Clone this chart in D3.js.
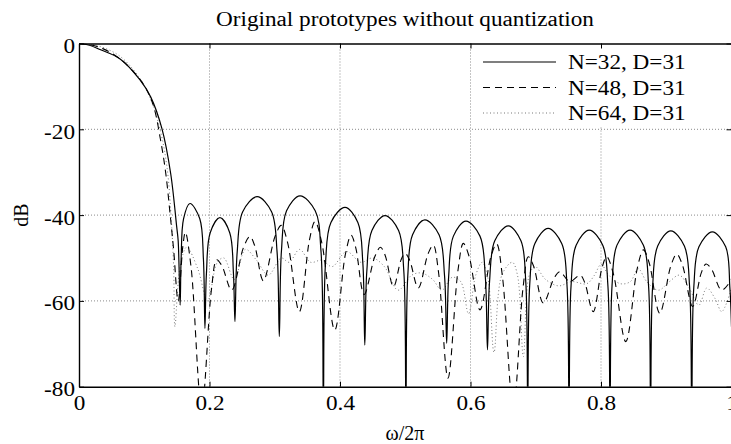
<!DOCTYPE html>
<html>
<head>
<meta charset="utf-8">
<script src="https://cdn.jsdelivr.net/npm/d3@7"></script>
<style>
  body { margin: 0; background: #fff; }
  text { font-family: "Liberation Serif", "Times New Roman", serif; fill: #000; }
</style>
</head>
<body>
<svg id="chart" width="731" height="444"></svg>
<script>
// values: [omega/2pi, dB]
var n32 = [
  [0,0],[0.016,-0.4],[0.032,-1.4],[0.063,-3.6],[0.0935,-8.5],[0.11,-12.5],[0.127,-19.8],[0.1405,-30.3],[0.1497,-42.7],[0.152,-46],[0.155,-61],
  [0.1565,-50.3],[0.1603,-40.8],[0.170,-37.3],[0.185,-40.8],[0.1907,-50.3],[0.193,-66.4],
  [0.1953,-53.6],[0.2011,-44.1],[0.216,-40.6],[0.231,-44.1],[0.2367,-53.6],[0.239,-64.8],
  [0.2424,-48.7],[0.2509,-39.2],[0.273,-35.7],[0.2951,-39.2],[0.3036,-48.7],[0.307,-68.3],
  [0.3102,-48.5],[0.3181,-39],[0.3387,-35.5],[0.362,-39],[0.3709,-48.5],[0.3745,-85],
  [0.3778,-51.2],[0.3861,-41.7],[0.4077,-38.2],[0.4274,-41.7],[0.435,-51.2],[0.438,-70.3],
  [0.4411,-53.1],[0.4489,-43.6],[0.469,-40.1],[0.4898,-43.6],[0.4978,-53.1],[0.501,-85],
  [0.5039,-54.1],[0.5112,-44.6],[0.530,-41.1],[0.5518,-44.6],[0.5602,-54.1],[0.5635,-69.9],
  [0.5665,-54.4],[0.5738,-44.9],[0.593,-41.4],[0.6145,-44.9],[0.6227,-54.4],[0.626,-71.4],
  [0.6292,-55.5],[0.6372,-46],[0.658,-42.5],[0.6773,-46],[0.6847,-55.5],[0.6877,-85],
  [0.6908,-56.1],[0.6987,-46.6],[0.719,-43.1],[0.7398,-46.6],[0.7478,-56.1],[0.751,-85],
  [0.7541,-56.5],[0.7619,-47],[0.782,-43.5],[0.8027,-47],[0.8106,-56.5],[0.8138,-85],
  [0.8169,-56.5],[0.8245,-47],[0.8445,-43.5],[0.865,-47],[0.8729,-56.5],[0.876,-85],
  [0.8791,-56.7],[0.8869,-47.2],[0.907,-43.7],[0.9278,-47.2],[0.9358,-56.7],[0.939,-85],
  [0.9422,-56.9],[0.9501,-47.4],[0.9706,-43.9],[0.9911,-47.4],[0.9975,-56.9],[1.0,-66]
];

var n48 = [
  [0,0],[0.03,-0.8],[0.063,-3.6],[0.096,-8.9],[0.113,-14],[0.125,-22.5],[0.133,-30.3],[0.1395,-39.6],[0.145,-48],[0.152,-60],
  [0.1592,-47.2],[0.163,-44],[0.1718,-52.2],[0.188,-85],
  [0.203,-57.3],[0.211,-50.4],[0.219,-51.8],[0.234,-57.5],
  [0.2522,-47.5],[0.262,-45],[0.2692,-47.1],[0.2825,-55.3],
  [0.3004,-45],[0.31,-42.4],[0.3197,-46.4],[0.3377,-62.5],
  [0.3533,-45.7],[0.3617,-41.5],[0.3723,-46.6],[0.392,-66.8],
  [0.4083,-49.1],[0.417,-44.7],[0.424,-47.5],[0.437,-58.5],
  [0.4533,-49.7],[0.462,-47.5],[0.469,-49.3],[0.482,-56.7],
  [0.4934,-50.5],[0.4996,-48.9],[0.5067,-50.5],[0.52,-57],
  [0.535,-49],[0.543,-47],[0.5509,-53.2],[0.5655,-78],
  [0.5808,-52.9],[0.589,-46.6],[0.598,-49.7],[0.6146,-62.1],
  [0.6311,-49.8],[0.640,-46.7],[0.649,-54.4],[0.6656,-85],
  [0.6806,-56.8],[0.6886,-49.7],[0.6967,-51.9],[0.7116,-60.5],
  [0.7281,-54.7],[0.737,-53.2],[0.752,-55.5],[0.768,-54],[0.775,-55.7],[0.788,-62.5],
  [0.8015,-52.3],[0.8087,-49.7],[0.819,-53.7],[0.838,-69.5],
  [0.8556,-52.4],[0.865,-48.1],[0.8738,-51.1],[0.890,-62.9],
  [0.9069,-51.9],[0.916,-49.1],[0.9246,-51.5],[0.9405,-61.3],
  [0.9538,-53.4],[0.961,-51.4],[0.9694,-52.6],[0.985,-57.5],[1.0,-55]
];

var n64 = [
  [0,0],[0.03,-0.6],[0.063,-3.0],[0.094,-8.3],[0.11,-13],[0.125,-20.5],[0.135,-29],[0.141,-40],[0.145,-52],[0.147,-66],
  [0.155,-52],[0.165,-47.5],[0.182,-52.5],[0.197,-60],[0.212,-51],[0.222,-50],[0.238,-55],
  [0.255,-48],[0.272,-50.5],[0.29,-54],[0.31,-50],[0.322,-51],[0.338,-48],[0.355,-51],
  [0.372,-50.5],[0.388,-52],[0.41,-48.5],[0.432,-51],[0.45,-50],[0.468,-52],[0.489,-57.5],
  [0.51,-54],[0.525,-53.5],[0.542,-55],[0.556,-57.5],[0.572,-54.5],[0.585,-55.5],[0.597,-63],
  [0.608,-54],[0.618,-51],[0.627,-55],[0.636,-72],[0.648,-54],[0.664,-51],[0.672,-54],[0.681,-73],
  [0.69,-54],[0.699,-52],[0.715,-55],[0.735,-56.5],[0.755,-55.5],[0.778,-56],[0.79,-54],[0.8,-51.5],
  [0.812,-54],[0.83,-56],[0.845,-55.5],[0.857,-52.5],[0.87,-55.5],[0.888,-57.5],[0.905,-55.5],
  [0.92,-54],[0.935,-57],[0.95,-61],[0.962,-57],[0.975,-59.5],[0.985,-62.5],[1.0,-57]
];

var xTicks = [0, 0.2, 0.4, 0.6, 0.8, 1];
var yTicks = [0, -20, -40, -60, -80];
var seriesNames = ["N=32, D=31", "N=48, D=31", "N=64, D=31"];
var titleText = "Original prototypes without quantization";

var m = [43.5, 731.5, 386.7, 79]; // top, right, bottom, left
var sx = 1.16; // the figure's lettering is a bit wide
var serif = "'Liberation Serif', 'Times New Roman', serif";
var svg = d3.select("#chart");

var x = d3.scaleLinear().domain([0, 1]).range([m[3], m[1]]);
var y = d3.scaleLinear().domain([-80, 0]).range([m[2], m[0]]);

svg.append("rect").attr("width", 731).attr("height", 444).attr("fill", "#fff");

svg.append("clipPath").attr("id", "plot")
  .append("rect").attr("x", m[3]).attr("y", m[0]).attr("width", m[1] - m[3]).attr("height", m[2] - m[0]);

// grid
var grid = svg.append("g").attr("stroke", "#8a8a8a").attr("stroke-width", 1).attr("stroke-dasharray", "1,2");
grid.selectAll(".gx").data(xTicks.slice(1, -1)).enter().append("line")
  .attr("x1", function(d) { return x(d); }).attr("x2", function(d) { return x(d); })
  .attr("y1", m[0]).attr("y2", m[2]);
grid.selectAll(".gy").data(yTicks.slice(1, -1)).enter().append("line")
  .attr("y1", function(d) { return y(d); }).attr("y2", function(d) { return y(d); })
  .attr("x1", m[3]).attr("x2", m[1]);

// legend box hides the grid under it
svg.append("rect").attr("x", 476).attr("y", m[0]).attr("width", 260).attr("height", 83).attr("fill", "#fff");

var line = d3.line()
  .x(function(d) { return x(d[0]); })
  .y(function(d) { return y(d[1]); })
  .curve(d3.curveCatmullRom.alpha(0.5));

var styles = [
  { data: n32, color: "#000", dash: null, width: 1.2 },
  { data: n48, color: "#000", dash: "7,5", width: 1.1 },
  { data: n64, color: "#777", dash: "1,2.5", width: 1 }
];

var curves = svg.append("g").attr("clip-path", "url(#plot)");
styles.slice().reverse().forEach(function(s) {
  curves.append("path").attr("d", line(s.data))
    .attr("fill", "none").attr("stroke", s.color)
    .attr("stroke-width", s.width).attr("stroke-dasharray", s.dash);
});

// axes, ticks point inward
function fmt(d) { return String(d); }
var ax = svg.append("g");

var axB = ax.append("g").attr("transform", "translate(0," + m[2] + ")")
  .call(d3.axisBottom(x).tickValues(xTicks).tickSize(-5).tickSizeOuter(0).tickPadding(11).tickFormat(fmt));
var axT = ax.append("g").attr("transform", "translate(0," + m[0] + ")")
  .call(d3.axisTop(x).tickValues(xTicks).tickSize(-5).tickSizeOuter(0).tickFormat(""));
var axL = ax.append("g").attr("transform", "translate(" + m[3] + ",0)")
  .call(d3.axisLeft(y).tickValues(yTicks).tickSize(-5).tickSizeOuter(0).tickPadding(4).tickFormat(fmt));
var axR = ax.append("g").attr("transform", "translate(" + m[1] + ",0)")
  .call(d3.axisRight(y).tickValues(yTicks).tickSize(-5).tickSizeOuter(0).tickFormat(""));

[axB, axT, axL, axR].forEach(function(g) {
  g.attr("font-size", 20).attr("font-family", serif);
  g.selectAll("text").style("font-family", serif);
});
axB.selectAll("text").attr("dy", "0.62em").attr("transform", "scale(" + sx + ",1)");
axL.selectAll("text").attr("dy", "0.45em").attr("x", -4 / sx).attr("transform", "scale(" + sx + ",1)");
ax.selectAll(".domain").attr("stroke-width", 1.4);
ax.selectAll(".tick line").attr("stroke-width", 1);

// title and axis labels
svg.append("text").attr("transform", "translate(405,26) scale(" + sx + ",1)").attr("text-anchor", "middle")
  .attr("font-size", 20).text(titleText);
svg.append("text").attr("x", 405).attr("y", 440).attr("text-anchor", "middle")
  .attr("font-size", 20).text("ω/2π");
svg.append("text").attr("transform", "translate(28,215) rotate(-90)").attr("text-anchor", "middle")
  .attr("font-size", 20).text("dB");

// legend
var leg = svg.append("g");
styles.forEach(function(s, i) {
  var ly = 62 + i * 25.5;
  leg.append("line").attr("x1", 483).attr("x2", 556).attr("y1", ly).attr("y2", ly)
    .attr("stroke", s.color).attr("stroke-width", s.width).attr("stroke-dasharray", s.dash);
  leg.append("text").attr("transform", "translate(568," + (ly + 7) + ") scale(" + sx + ",1)")
    .attr("font-size", 20).text(seriesNames[i]);
});
</script>
</body>
</html>
